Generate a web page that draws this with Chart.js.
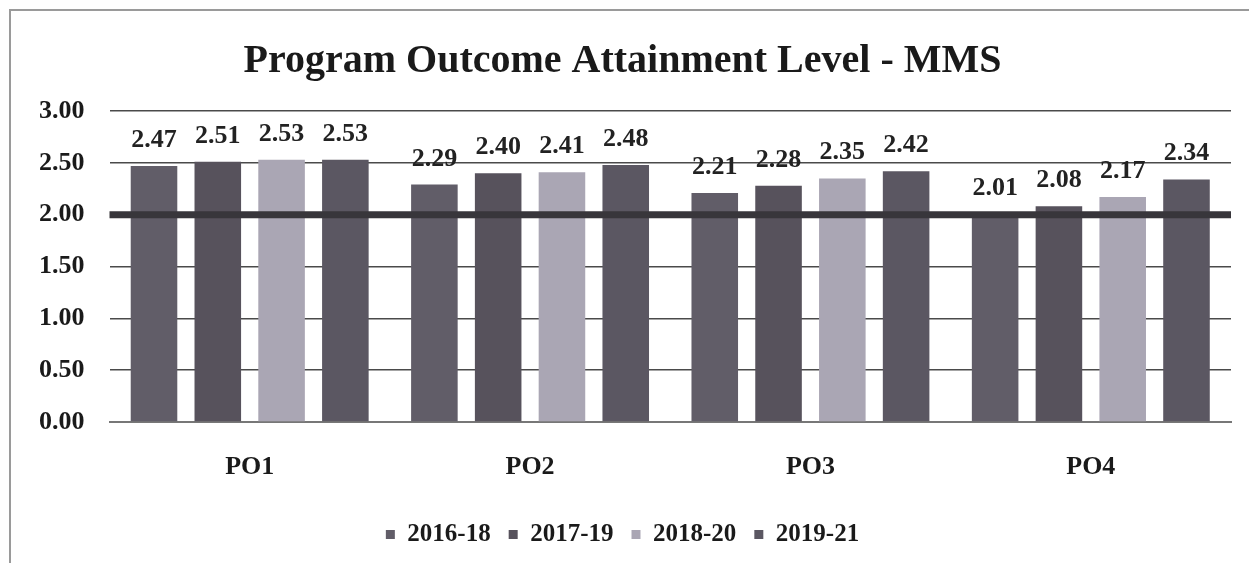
<!DOCTYPE html>
<html>
<head>
<meta charset="utf-8">
<script src="https://cdn.jsdelivr.net/npm/chart.js@4.4.1/dist/chart.umd.min.js"></script>
<style>
  html, body { margin: 0; padding: 0; background: #fff; }
  #wrap { position: relative; width: 1249px; height: 563px; overflow: hidden; }
  #frame { position: absolute; left: 9px; top: 9px; width: 1250px; height: 600px; border-left: 2px solid #9a9a9a; border-top: 2px solid #9a9a9a; box-sizing: border-box; pointer-events: none; }
  canvas { position: absolute; left: 0; top: 0; }
</style>
</head>
<body>
<div id="wrap">
  <canvas id="c" width="1249" height="563"></canvas>
  <div id="frame"></div>
</div>
<script>
const categories = ['PO1', 'PO2', 'PO3', 'PO4'];
const seriesNames = ['2016-18', '2017-19', '2018-20', '2019-21'];
const values2016_18 = [2.47, 2.29, 2.21, 2.01];
const values2017_19 = [2.51, 2.40, 2.28, 2.08];
const values2018_20 = [2.53, 2.41, 2.35, 2.17];
const values2019_21 = [2.53, 2.48, 2.42, 2.34];
const targetLevel = 2.00;
const yTicks = [0, 0.5, 1, 1.5, 2, 2.5, 3];

const seriesColors = ['#615d68', '#57525c', '#aaa6b4', '#5b5762'];
const serifFont = "'Liberation Serif', 'DejaVu Serif', serif";

const dataLabelPlugin = {
  id: 'dataLabels',
  afterDatasetsDraw(chart) {
    const ctx = chart.ctx;
    ctx.save();
    ctx.font = 'bold 26px ' + serifFont;
    ctx.fillStyle = '#222';
    ctx.textAlign = 'center';
    ctx.textBaseline = 'alphabetic';
    chart.data.datasets.forEach((ds, i) => {
      const meta = chart.getDatasetMeta(i);
      meta.data.forEach((bar, j) => {
        ctx.fillText(ds.data[j].toFixed(2), bar.x, bar.y - 19);
      });
    });
    ctx.restore();
  }
};

const targetLinePlugin = {
  id: 'targetLine',
  afterDatasetsDraw(chart) {
    const y = chart.scales.y.getPixelForValue(targetLevel);
    const ctx = chart.ctx;
    const a = chart.chartArea;
    ctx.save();
    ctx.strokeStyle = '#38363b';
    ctx.lineWidth = 7;
    ctx.beginPath();
    ctx.moveTo(a.left, y);
    ctx.lineTo(a.right, y);
    ctx.stroke();
    ctx.restore();
  }
};

const datasetValues = [values2016_18, values2017_19, values2018_20, values2019_21];

new Chart(document.getElementById('c'), {
  type: 'bar',
  data: {
    labels: categories,
    datasets: seriesNames.map((name, i) => ({
      label: name,
      data: datasetValues[i],
      backgroundColor: seriesColors[i],
      borderWidth: 0,
      categoryPercentage: 0.91,
      barPercentage: 0.73
    }))
  },
  plugins: [dataLabelPlugin, targetLinePlugin],
  options: {
    responsive: false,
    animation: false,
    layout: { padding: { top: 38, left: 14, right: 18, bottom: 6 } },
    plugins: {
      title: {
        display: true,
        text: 'Program Outcome Attainment Level - MMS',
        color: '#1a1a1a',
        font: { family: serifFont, size: 40, weight: 'bold' },
        padding: { top: 0, bottom: 25 }
      },
      legend: {
        position: 'bottom',
        labels: {
          color: '#1a1a1a',
          font: { family: serifFont, size: 25, weight: 'bold' },
          boxWidth: 9,
          boxHeight: 9,
          padding: 18
        }
      },
      tooltip: { enabled: false }
    },
    scales: {
      x: {
        grid: { display: false, drawTicks: false },
        border: { display: true, color: '#777', width: 2 },
        afterFit(scale) { scale.height = 82; },
        ticks: {
          color: '#1a1a1a',
          font: { family: serifFont, size: 26, weight: 'bold' },
          padding: 30
        }
      },
      y: {
        min: 0,
        max: 3,
        afterBuildTicks(scale) { scale.ticks = yTicks.map(v => ({ value: v })); },
        grid: { color: '#4a4a4a', lineWidth: 1.5, drawTicks: false },
        border: { display: false },
        ticks: {
          color: '#1a1a1a',
          font: { family: serifFont, size: 26, weight: 'bold' },
          padding: 25,
          callback: v => Number(v).toFixed(2)
        }
      }
    }
  }
});
</script>
</body>
</html>
